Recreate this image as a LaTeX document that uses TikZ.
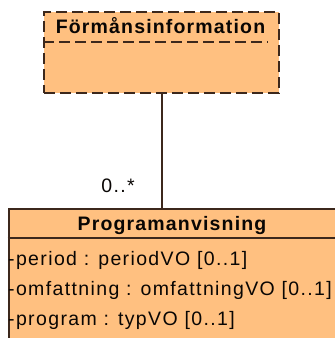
\documentclass[tikz,border=0pt]{standalone}
\usepackage{fontspec}
\setmainfont{Liberation Sans}
\newfontfamily\attrfont[LetterSpace=7]{Liberation Sans}
\newfontfamily\titlefont[LetterSpace=6]{Liberation Sans Bold}
\definecolor{umlfill}{RGB}{255,192,128}
\definecolor{umlline}{RGB}{60,40,28}
\begin{document}
\begin{tikzpicture}[x=1pt,y=-1pt,
  classbox/.style={draw=umlline,fill=umlfill,line width=2pt,inner sep=0pt},
  dashbox/.style={draw=umlline,fill=umlfill,line width=2.4pt,dash pattern=on 11pt off 5pt,inner sep=0pt},
  titletext/.style={inner sep=0pt,font=\titlefont\fontsize{19.5}{20}\selectfont,text=black!85!umlline},
  attrtext/.style={inner sep=0pt,anchor=base west,font=\attrfont\fontsize{19.5}{20}\selectfont,text=black!85!umlline},
  multtext/.style={inner sep=0pt,anchor=base east,font=\attrfont\fontsize{19.5}{20}\selectfont,text=black!85!umlline},
  conn/.style={draw=umlline,line width=2pt}]
\useasboundingbox (0,0) rectangle (335,338);
\clip (0,0) rectangle (335,338);
% top class (dashed)
\node[dashbox,minimum width=235pt,minimum height=81pt,anchor=north west] (fi) at (43,11) {};
\coordinate (fihl) at (43,42);
\coordinate (fihr) at (268,42);
\draw[umlline,line width=2.4pt,dash pattern=on 11pt off 5pt] (fihl) -- (fihr);
\node[titletext,anchor=base] (fit) at (160.5,33) {Förmånsinformation};
% bottom class
\node[classbox,minimum width=345pt,minimum height=150pt,anchor=north west] (pa) at (7.5,207.5) {};
\coordinate (pahl) at (7.5,238);
\coordinate (pahr) at (345,238);
\draw[umlline,line width=2pt] (pahl) -- (pahr);
\node[titletext,anchor=base] (pat) at (172,230) {Programanvisning};
\node[attrtext] (a1) at (8,265) {-period : periodVO [0..1]};
\node[attrtext] (a2) at (8,295) {-omfattning : omfattningVO [0..1]};
\node[attrtext] (a3) at (8,325) {-program : typVO [0..1]};
% connector
\draw[conn] (fi.south) -- (fi.south |- pa.north);
\node[multtext] (m) at (135,192) {0..*};
\end{tikzpicture}
\end{document}
